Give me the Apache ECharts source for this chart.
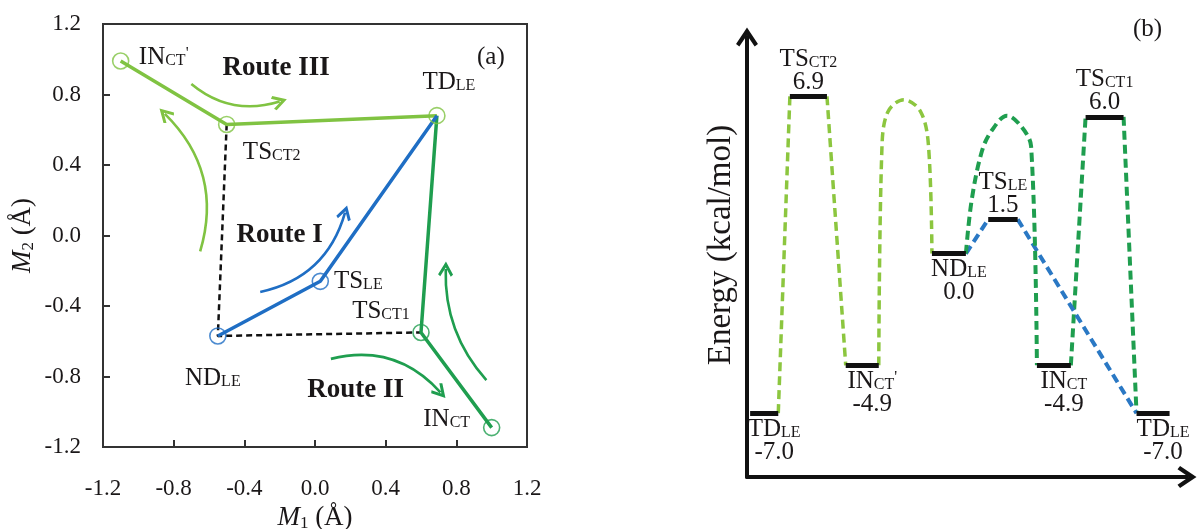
<!DOCTYPE html>
<html>
<head>
<meta charset="utf-8">
<title>Routes and energy profile</title>
<script src="https://cdn.jsdelivr.net/npm/echarts@6/dist/echarts.min.js"></script>
<style>
html, body { margin: 0; padding: 0; background: #fff; }
#echarts { width: 1197px; height: 529px; }
</style>
</head>
<body>
<div id="echarts"></div>
<script>
/** (a) 状态点坐标 M1 / M2 (Å) */
var stateNames = ["IN_CT'", 'TS_CT2', 'TD_LE', 'TS_CT1', 'IN_CT', 'ND_LE', 'TS_LE']
var stateM1 = [-1.10, -0.50, 0.69, 0.60, 1.00, -0.55, 0.03]
var stateM2 = [0.99, 0.63, 0.68, -0.55, -1.09, -0.57, -0.26]

// 路径（按状态名）
var route1 = ['ND_LE', 'TS_LE', 'TD_LE']
var route2 = ['TD_LE', 'TS_CT1', 'IN_CT']
var route3 = ["IN_CT'", 'TS_CT2', 'TD_LE']
var blackDashed = ['TS_CT2', 'ND_LE', 'TS_CT1']

// 弯箭头 [m1 起点, m2 起点, m1 终点, m2 终点, 弯曲度]
var arrowsRoute1 = [[-0.31, -0.32, 0.17, 0.13, -0.3]]
var arrowsRoute2 = [[0.09, -0.70, 0.71, -0.89, 0.3], [0.97, -0.82, 0.74, -0.19, 0.2]]
var arrowsRoute3 = [[-0.70, 0.86, -0.20, 0.76, -0.27], [-0.65, -0.09, -0.85, 0.69, -0.3]]

// 路线文字
var routeNames = ['Route I', 'Route II', 'Route III']
var routeTextM1 = [-0.20, 0.23, -0.22]
var routeTextM2 = [0.00, -0.875, 0.95]

/** (b) 能级 (kcal/mol) */
var levelNames = ['TD_LE', 'TS_CT2', "IN_CT'", 'ND_LE', 'TS_LE', 'IN_CT', 'TS_CT1', 'TD_LE']
var levelEnergy = [-7.0, 6.9, -4.9, 0.0, 1.5, -4.9, 6.0, -7.0]
var levelStart = [0.7, 9.6, 22.1, 41.4, 54.0, 64.9, 75.8, 87.2]
var levelEnd = [7.0, 17.9, 29.5, 49.0, 60.6, 72.5, 84.3, 94.6]

// 虚线连接 [from, to]
var linksCT2 = [[0, 1], [1, 2]]
var linksCT1 = [[5, 6], [6, 7]]
var linksLE = [[3, 4], [4, 7]]

// 弧形虚线
var humpCT2X = [29.5, 30.2, 31.5, 35.1, 38.8, 40.6, 41.4]
var humpCT2E = [-4.9, 4.6, 6.2, 6.75, 6.25, 4.8, 0.0]
var humpCT1X = [49.0, 50.3, 52.6, 54.8, 58.2, 61.5, 63.6, 64.9]
var humpCT1E = [0.0, 2.35, 4.5, 5.4, 6.05, 5.55, 4.7, -4.9]

/** 样式 */
var serif = 'Liberation Serif'
var ink = '#1a1718'
var lightGreen = '#80c342'
var green = '#1f9e4f'
var blue = '#1f6ec4'
var chevron = 'path://M0,9L6,0L12,9L10.2,10.4L6,4.2L1.8,10.4Z'

var myChart
var option

var richStyle = function(size, subSize) {
	return {
		a: {fontFamily: serif, fontSize: size, color: ink, lineHeight: size - 2, verticalAlign: 'middle', textBorderWidth: 0},
		s: {fontFamily: serif, fontSize: subSize, color: ink, lineHeight: subSize, verticalAlign: 'bottom', textBorderWidth: 0},
		p: {fontFamily: serif, fontSize: subSize, color: ink, lineHeight: subSize, verticalAlign: 'top', textBorderWidth: 0}
	}
}

// "TS_CT2" -> rich text
var richName = function(name) {
	var parts = name.split('_')
	var sub = parts[1] || ''
	var prime = ''
	if (sub.slice(-1) === "'") {
		prime = "'"
		sub = sub.slice(0, -1)
	}
	return '{a|' + parts[0] + '}{s|' + sub + '}' + (prime ? '{p|' + prime + '}' : '')
}

var statePoint = function(name) {
	var i = stateNames.indexOf(name)
	return [stateM1[i], stateM2[i]]
}

var tickFmt = function(v) {
	if (Math.abs(v) < 1e-9) return '0.0'
	return v.toFixed(1)
}

var arrowSeries = function(list, color) {
	return {
		type: 'lines',
		coordinateSystem: 'cartesian2d',
		xAxisIndex: 0,
		yAxisIndex: 0,
		symbol: ['none', chevron],
		symbolSize: [18, 15],
		lineStyle: {color: color, width: 2.6, opacity: 1},
		z: 4,
		data: list.map(function(a) {
			return {coords: [[a[0], a[1]], [a[2], a[3]]], lineStyle: {curveness: a[4]}}
		})
	}
}

var linkSeries = function(links, color, width) {
	return {
		type: 'lines',
		coordinateSystem: 'cartesian2d',
		xAxisIndex: 1,
		yAxisIndex: 1,
		symbol: 'none',
		lineStyle: {color: color, width: width, type: [9, 5], opacity: 1},
		z: 3,
		data: links.map(function(l) {
			return {coords: [[levelEnd[l[0]], levelEnergy[l[0]]], [levelStart[l[1]], levelEnergy[l[1]]]]}
		})
	}
}

var humpSeries = function(xs, es, color, width) {
	return {
		type: 'line',
		xAxisIndex: 1,
		yAxisIndex: 1,
		smooth: 0.35,
		symbol: 'none',
		lineStyle: {color: color, width: width, type: [9, 5]},
		z: 3,
		data: xs.map(function(x, i) { return [x, es[i]] })
	}
}

/** 初始化option */
var initOption = function() {
	var stateColor = {"IN_CT'": lightGreen, TS_CT2: lightGreen, TD_LE: lightGreen, TS_CT1: green, IN_CT: green, ND_LE: blue, TS_LE: blue}
	var stateOffset = {"IN_CT'": [43, -4], TS_CT2: [45, 28], TD_LE: [12, -33], TS_CT1: [-40, -21], IN_CT: [-45, -8], ND_LE: [-5, 42], TS_LE: [38, 0]}

	var axisNameRich = {
		i: {fontFamily: serif, fontStyle: 'italic', fontSize: 27, color: ink, lineHeight: 28, verticalAlign: 'middle'},
		s: {fontFamily: serif, fontSize: 17, color: ink, lineHeight: 17, verticalAlign: 'bottom'},
		a: {fontFamily: serif, fontSize: 27, color: ink, lineHeight: 28, verticalAlign: 'middle'}
	}
	var tickLabel = {fontFamily: serif, fontSize: 23, color: ink, formatter: tickFmt}

	option = {
		animation: false,
		backgroundColor: '#fff',
		title: [
			{text: '(a)', left: 477, top: 45, padding: 0, textStyle: {fontFamily: serif, fontSize: 25, fontWeight: 'normal', color: ink}},
			{text: '(b)', left: 1133, top: 17, padding: 0, textStyle: {fontFamily: serif, fontSize: 25, fontWeight: 'normal', color: ink}}
		],
		grid: [
			{left: 103, top: 24, width: 424, height: 423, outerBoundsMode: 'none', containLabel: false,
				show: true, borderColor: '#333', borderWidth: 2, backgroundColor: 'transparent'},
			{left: 747, top: 37, width: 440, height: 440, outerBoundsMode: 'none', containLabel: false}
		],
		xAxis: [
			{
				gridIndex: 0, type: 'value', min: -1.2, max: 1.2, interval: 0.4,
				axisLine: {show: true, onZero: false, lineStyle: {color: '#333', width: 2}},
				axisTick: {show: true, inside: true, length: 7, lineStyle: {color: '#333', width: 2}},
				axisLabel: Object.assign({margin: 30}, tickLabel),
				splitLine: {show: false},
				name: '{i|M}{s|1}{a| (Å)}', nameLocation: 'middle', nameGap: 55,
				nameTextStyle: {rich: axisNameRich}
			},
			{
				gridIndex: 1, type: 'value', min: 0, max: 98.5,
				axisLine: {show: true, onZero: false, symbol: ['none', chevron], symbolSize: [22, 19], lineStyle: {color: '#111', width: 4}},
				axisTick: {show: false}, axisLabel: {show: false}, splitLine: {show: false}
			}
		],
		yAxis: [
			{
				gridIndex: 0, type: 'value', min: -1.2, max: 1.2, interval: 0.4,
				axisLine: {show: true, onZero: false, lineStyle: {color: '#333', width: 2}},
				axisTick: {show: true, inside: true, length: 7, lineStyle: {color: '#333', width: 2}},
				axisLabel: Object.assign({margin: 22}, tickLabel),
				splitLine: {show: false},
				name: '{i|M}{s|2}{a| (Å)}', nameLocation: 'middle', nameGap: 66, nameRotate: 90,
				nameTextStyle: {rich: axisNameRich}
			},
			{
				gridIndex: 1, type: 'value', min: -9.8, max: 9.5,
				axisLine: {show: true, onZero: false, symbol: ['none', chevron], symbolSize: [22, 19], lineStyle: {color: '#111', width: 4}},
				axisTick: {show: false}, axisLabel: {show: false}, splitLine: {show: false},
				name: 'Energy (kcal/mol)', nameLocation: 'middle', nameGap: 9, nameRotate: 90,
				nameTextStyle: {fontFamily: serif, fontSize: 33, color: ink, padding: [0, 0, 0, 24]}
			}
		],
		series: [
			// (a) routes
			{type: 'line', xAxisIndex: 0, yAxisIndex: 0, symbol: 'none', z: 2,
				lineStyle: {color: '#111', width: 2.5, type: [6, 4]}, data: blackDashed.map(statePoint)},
			{type: 'line', xAxisIndex: 0, yAxisIndex: 0, symbol: 'none', z: 3,
				lineStyle: {color: lightGreen, width: 3.5}, data: route3.map(statePoint)},
			{type: 'line', xAxisIndex: 0, yAxisIndex: 0, symbol: 'none', z: 3,
				lineStyle: {color: green, width: 3.5}, data: route2.map(statePoint)},
			{type: 'line', xAxisIndex: 0, yAxisIndex: 0, symbol: 'none', z: 3,
				lineStyle: {color: blue, width: 3.5}, data: route1.map(statePoint)},
			arrowSeries(arrowsRoute3, lightGreen),
			arrowSeries(arrowsRoute2, green),
			arrowSeries(arrowsRoute1, blue),
			{
				type: 'scatter', xAxisIndex: 0, yAxisIndex: 0, symbol: 'circle', symbolSize: 16, z: 5,
				itemStyle: {color: 'rgba(255,255,255,0)', borderWidth: 1.6},
				label: {show: true, position: 'inside', color: ink, opacity: 1, textBorderWidth: 0, rich: richStyle(25, 16), formatter: function(p) { return richName(p.name) }},
				data: stateNames.map(function(n, i) {
					return {name: n, value: [stateM1[i], stateM2[i]], itemStyle: {borderColor: stateColor[n]}, label: {offset: stateOffset[n]}}
				})
			},
			{
				type: 'scatter', xAxisIndex: 0, yAxisIndex: 0, symbolSize: 1, z: 5,
				itemStyle: {color: 'rgba(0,0,0,0)'},
				label: {show: true, position: 'inside', fontFamily: serif, fontSize: 27, fontWeight: 'bold', color: ink, opacity: 1, textBorderWidth: 0, formatter: '{b}'},
				data: routeNames.map(function(n, i) { return {name: n, value: [routeTextM1[i], routeTextM2[i]]} })
			},
			// (b) energy profile
			linkSeries(linksCT2, '#8cc63f', 3.5),
			linkSeries(linksCT1, green, 4),
			linkSeries(linksLE, '#2a78c4', 4),
			humpSeries(humpCT2X, humpCT2E, '#8cc63f', 3.5),
			humpSeries(humpCT1X, humpCT1E, green, 4),
			{
				type: 'lines', coordinateSystem: 'cartesian2d', xAxisIndex: 1, yAxisIndex: 1, symbol: 'none', z: 6,
				lineStyle: {color: '#111', width: 5, opacity: 1},
				data: levelEnergy.map(function(e, i) { return {coords: [[levelStart[i], e], [levelEnd[i], e]]} })
			},
			{
				type: 'scatter', xAxisIndex: 1, yAxisIndex: 1, symbolSize: 1, z: 6,
				itemStyle: {color: 'rgba(0,0,0,0)'},
				label: {show: true, color: ink, opacity: 1, textBorderWidth: 0, rich: richStyle(25, 16)},
				data: levelEnergy.map(function(e, i) {
					var up = levelNames[i].indexOf('TS') === 0
					return {
						name: levelNames[i],
						value: [(levelStart[i] + levelEnd[i]) / 2, e],
						label: {
							position: up ? 'top' : 'bottom',
							distance: up ? 2 : 4,
							offset: up ? [0, 0] : [10, 0],
							formatter: richName(levelNames[i]) + '\n{a|' + e.toFixed(1) + '}'
						}
					}
				})
			}
		]
	}
}

/** 初始化图表 */
var initChart = function() {
	myChart = echarts.init(document.getElementById('echarts'))
}

var drawChart = function() {
	initOption()
	initChart()
	myChart.setOption(option)
}

drawChart()
</script>
</body>
</html>
